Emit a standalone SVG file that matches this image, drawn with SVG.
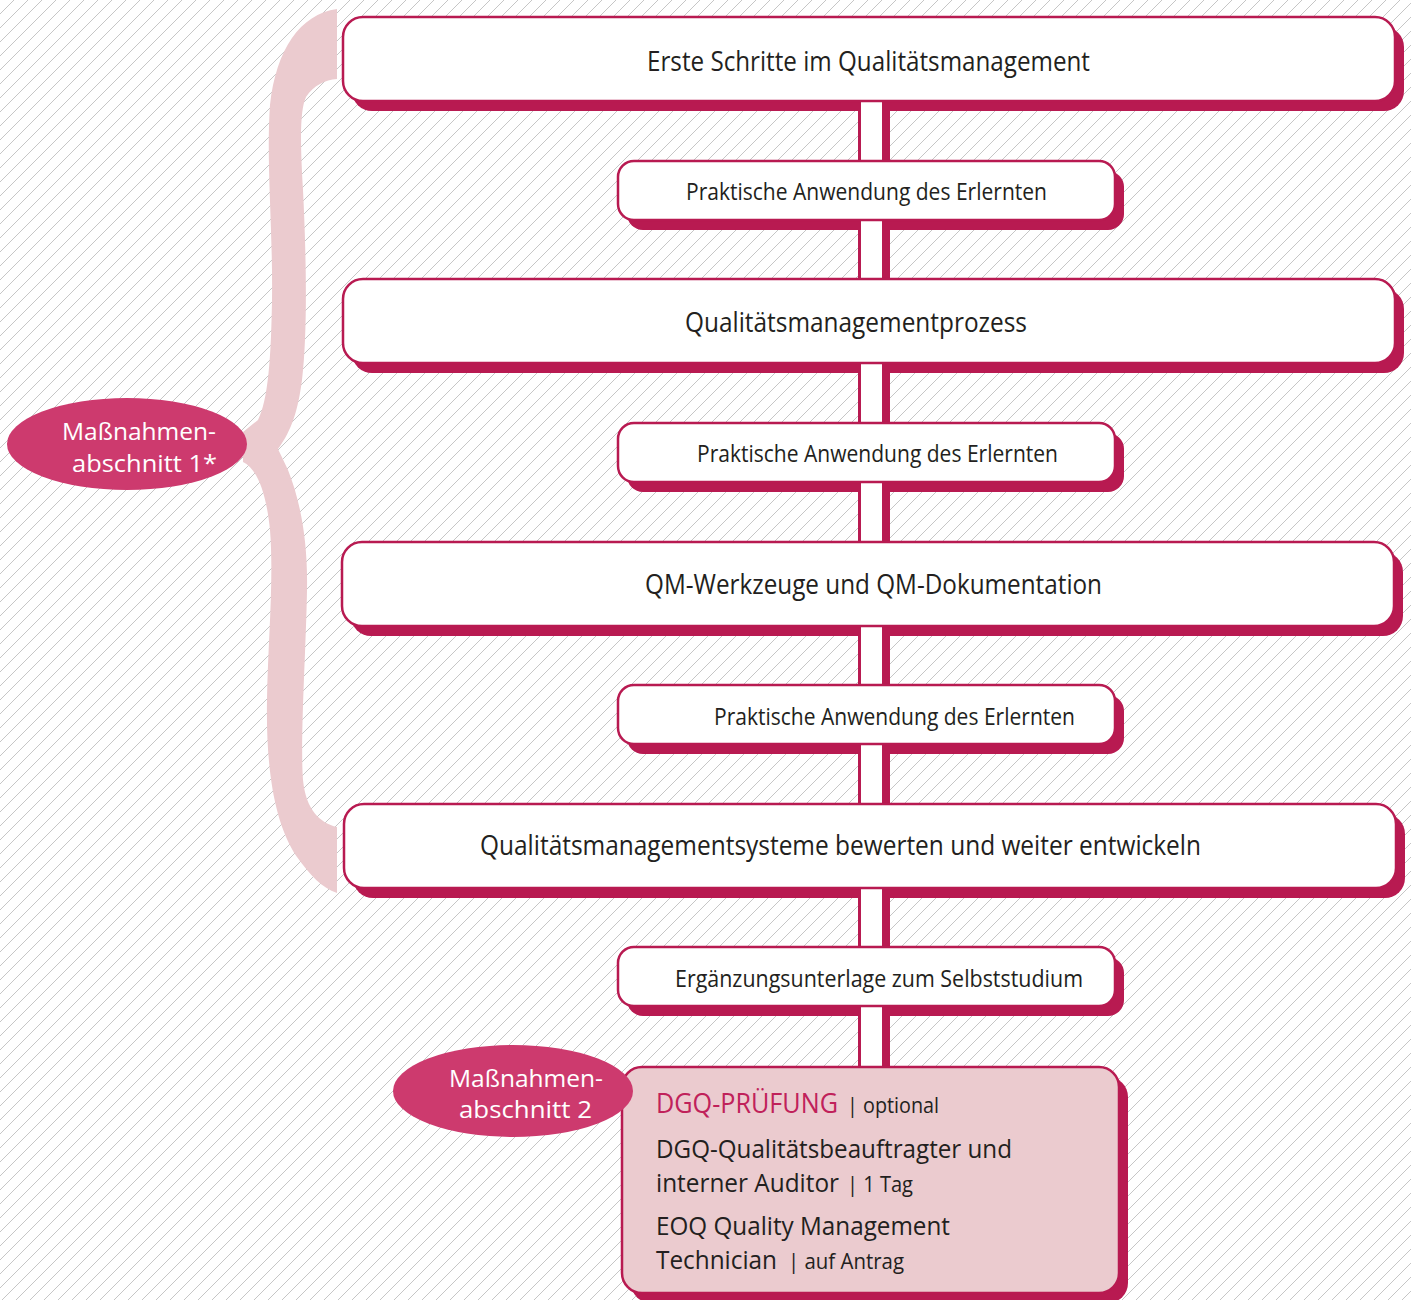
<svg xmlns="http://www.w3.org/2000/svg" width="1411" height="1300" viewBox="0 0 1411 1300">
<style>
.sh{fill:#b81a51}
.bx{fill:#ffffff;stroke:#b81a51;stroke-width:2.5}
.bxp{fill:#ebcbcf;stroke:#b81a51;stroke-width:2.5}
.t{font-family:"Open Sans","Noto Sans","Liberation Sans",sans-serif;fill:#231f20}
.big{font-size:28px}
.sm{font-size:23px}
.el{fill:#cd3a6e}
.et{font-family:"Open Sans","Noto Sans","Liberation Sans",sans-serif;fill:#ffffff;font-size:24px}
.cl{fill:#b81a51}
.cw{fill:#ffffff}
</style>
<defs>
<pattern id="hatch" patternUnits="userSpaceOnUse" width="14" height="14">
<path d="M0,14 L14,0 M-2,2 L2,-2 M12,16 L16,12" stroke="#c6c6c6" stroke-width="1" fill="none"/>
</pattern>
</defs>
<rect x="0" y="0" width="1411" height="1300" fill="#ffffff"/>
<rect x="0" y="0" width="1411" height="1300" fill="url(#hatch)"/>

<g id="brace">
<path fill="#ebcbcf" d="M337,9 C300,14 276,50 270,105 C266,160 273,230 272,300 C271,360 268,400 258,420 L243,432 L243,462 C256,468 266,490 270,530 C274,580 268,640 267,700 C266,760 272,820 297,857 C310,875 322,888 337,893 L337,827 C320,823 306,810 303,780 C300,740 306,650 307,590 C308,540 300,500 288,470 L278,449 C292,430 298,410 302,380 C308,330 306,250 303,190 C300,140 300,110 306,97 C314,85 325,80 337,79 Z"/>
</g>

<g id="shadows">
<rect class="sh" x="352" y="27" width="1052" height="84" rx="20"/>
<rect class="sh" x="627" y="171" width="497" height="59" rx="16"/>
<rect class="sh" x="352" y="289" width="1052" height="84" rx="20"/>
<rect class="sh" x="627" y="433" width="497" height="59" rx="16"/>
<rect class="sh" x="351" y="552" width="1052" height="84" rx="20"/>
<rect class="sh" x="627" y="695" width="497" height="59" rx="16"/>
<rect class="sh" x="353" y="814" width="1052" height="84" rx="20"/>
<rect class="sh" x="627" y="957" width="497" height="59" rx="16"/>
<rect class="sh" x="631" y="1077" width="497" height="226" rx="20"/>
</g>

<g id="connectors">
<rect class="cl" x="858" y="98" width="32" height="66"/><rect class="cw" x="861" y="98" width="21" height="66"/>
<rect class="cl" x="858" y="217" width="32" height="65"/><rect class="cw" x="861" y="217" width="21" height="65"/>
<rect class="cl" x="858" y="360" width="32" height="66"/><rect class="cw" x="861" y="360" width="21" height="66"/>
<rect class="cl" x="858" y="479" width="32" height="66"/><rect class="cw" x="861" y="479" width="21" height="66"/>
<rect class="cl" x="858" y="623" width="32" height="65"/><rect class="cw" x="861" y="623" width="21" height="65"/>
<rect class="cl" x="858" y="741" width="32" height="66"/><rect class="cw" x="861" y="741" width="21" height="66"/>
<rect class="cl" x="858" y="885" width="32" height="65"/><rect class="cw" x="861" y="885" width="21" height="65"/>
<rect class="cl" x="858" y="1003" width="32" height="67"/><rect class="cw" x="861" y="1003" width="21" height="67"/>
</g>

<g id="n1">
<rect class="bx" x="343" y="17" width="1052" height="84" rx="20"/>
<text class="t big" x="647" y="71" textLength="443" lengthAdjust="spacingAndGlyphs">Erste Schritte im Qualitätsmanagement</text>
</g>
<g id="n2">
<rect class="bx" x="618" y="161" width="497" height="59" rx="16"/>
<text class="t sm" x="686" y="200" textLength="361" lengthAdjust="spacingAndGlyphs">Praktische Anwendung des Erlernten</text>
</g>
<g id="n3">
<rect class="bx" x="343" y="279" width="1052" height="84" rx="20"/>
<text class="t big" x="685" y="332" textLength="342" lengthAdjust="spacingAndGlyphs">Qualitätsmanagementprozess</text>
</g>
<g id="n4">
<rect class="bx" x="618" y="423" width="497" height="59" rx="16"/>
<text class="t sm" x="697" y="462" textLength="361" lengthAdjust="spacingAndGlyphs">Praktische Anwendung des Erlernten</text>
</g>
<g id="n5">
<rect class="bx" x="342" y="542" width="1052" height="84" rx="20"/>
<text class="t big" x="645" y="594" textLength="457" lengthAdjust="spacingAndGlyphs">QM-Werkzeuge und QM-Dokumentation</text>
</g>
<g id="n6">
<rect class="bx" x="618" y="685" width="497" height="59" rx="16"/>
<text class="t sm" x="714" y="725" textLength="361" lengthAdjust="spacingAndGlyphs">Praktische Anwendung des Erlernten</text>
</g>
<g id="n7">
<rect class="bx" x="344" y="804" width="1052" height="84" rx="20"/>
<text class="t big" x="480" y="855" textLength="721" lengthAdjust="spacingAndGlyphs">Qualitätsmanagementsysteme bewerten und weiter entwickeln</text>
</g>
<g id="n8">
<rect class="bx" x="618" y="947" width="497" height="59" rx="16"/>
<text class="t sm" x="675" y="987" textLength="408" lengthAdjust="spacingAndGlyphs">Ergänzungsunterlage zum Selbststudium</text>
</g>
<g id="n9">
<rect class="bxp" x="622" y="1067" width="497" height="226" rx="20"/>
<text class="t" x="656" y="1113" font-size="27" style="fill:#c0215a" textLength="182" lengthAdjust="spacingAndGlyphs">DGQ-PRÜFUNG</text>
<text class="t" x="847" y="1113" font-size="21" textLength="92" lengthAdjust="spacingAndGlyphs">| optional</text>
<text class="t" x="656" y="1158" font-size="25" textLength="356" lengthAdjust="spacingAndGlyphs">DGQ-Qualitätsbeauftragter und</text>
<text class="t" x="656" y="1192" font-size="25" textLength="183" lengthAdjust="spacingAndGlyphs">interner Auditor</text>
<text class="t" x="847" y="1192" font-size="21" textLength="66" lengthAdjust="spacingAndGlyphs">| 1 Tag</text>
<text class="t" x="656" y="1235" font-size="25" textLength="294" lengthAdjust="spacingAndGlyphs">EOQ Quality Management</text>
<text class="t" x="656" y="1269" font-size="25" textLength="121" lengthAdjust="spacingAndGlyphs">Technician</text>
<text class="t" x="788" y="1269" font-size="21" textLength="116" lengthAdjust="spacingAndGlyphs">| auf Antrag</text>
</g>

<g id="e1">
<ellipse class="el" cx="127" cy="444" rx="120" ry="46"/>
<text class="et" x="62" y="440" textLength="154" lengthAdjust="spacingAndGlyphs">Maßnahmen-</text>
<text class="et" x="72" y="472" textLength="145" lengthAdjust="spacingAndGlyphs">abschnitt 1*</text>
</g>
<g id="e2">
<ellipse class="el" cx="513" cy="1091" rx="120" ry="46"/>
<text class="et" x="449" y="1087" textLength="154" lengthAdjust="spacingAndGlyphs">Maßnahmen-</text>
<text class="et" x="459" y="1118" textLength="133" lengthAdjust="spacingAndGlyphs">abschnitt 2</text>
</g>
</svg>
